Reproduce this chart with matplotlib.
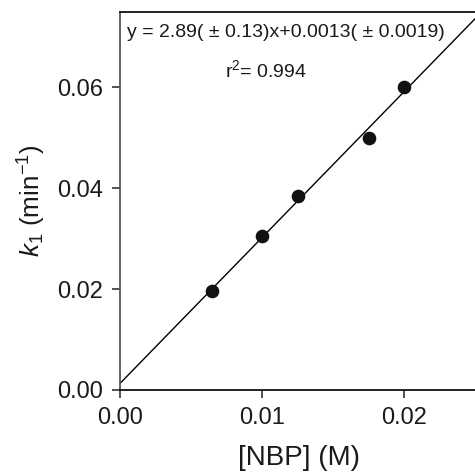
import numpy as np
import matplotlib
matplotlib.use("Agg")
import matplotlib.pyplot as plt

plt.rcParams['font.family'] = ['Liberation Sans', 'DejaVu Sans']
plt.rcParams['mathtext.fontset'] = 'custom'
plt.rcParams['mathtext.rm'] = 'Liberation Sans'
plt.rcParams['mathtext.it'] = 'Liberation Sans:italic'

nbp = [0.0065, 0.0100, 0.0125, 0.0175, 0.0200]
k1 = [0.0196, 0.0305, 0.0384, 0.0499, 0.0600]
slope = 2.89
intercept = 0.0013
xticks = [0.00, 0.01, 0.02]
yticks = [0.00, 0.02, 0.04, 0.06]

fig = plt.figure(figsize=(4.75, 4.76), dpi=100)
W, H = 475, 476
left, right, top, bottom = 120, 477, 12, 390
ax = fig.add_axes([left / W, 1 - bottom / H, (right - left) / W, (bottom - top) / H])

xl = np.array([0.0, 0.03])
ax.plot(xl, slope * xl + intercept, color='black', lw=1.0, zorder=2)
ax.plot(nbp, k1, 'o', color='#111111', ms=8.8, zorder=3)

ax.set_xlim(0, 0.02514)
ax.set_ylim(0, 0.0749)
ax.set_xticks(xticks)
ax.set_xticklabels(['0.00', '0.01', '0.02'])
ax.set_yticks(yticks)
ax.set_yticklabels(['0.00', '0.02', '0.04', '0.06'])
ax.tick_params(direction='out', length=6, width=1.2, labelsize=17, pad=6, colors='#333333', labelcolor='#1a1a1a')
ax.spines['left'].set_color('#555555')
for s in ['left', 'bottom', 'top', 'right']:
    ax.spines[s].set_linewidth(1.3)
ax.spines['bottom'].set_color('#111111')
ax.spines['top'].set_color('#111111')

ax.set_xlabel('[NBP] (M)', fontsize=20, labelpad=12, color='#1a1a1a')
ax.set_ylabel('$k_1$ (min$^{-1}$)', fontsize=18.8, labelpad=7, color='#1a1a1a')

ax.text(0.02, 0.945, 'y = 2.89( \u00b1 0.13)x+0.0013( \u00b1 0.0019)', transform=ax.transAxes,
        fontsize=14, ha='left', va='center', color='#1a1a1a')
ax.text(0.41, 0.845, 'r$^2$= 0.994', transform=ax.transAxes,
        fontsize=14, ha='center', va='center', color='#1a1a1a')

fig.savefig('out.png', dpi=100)
